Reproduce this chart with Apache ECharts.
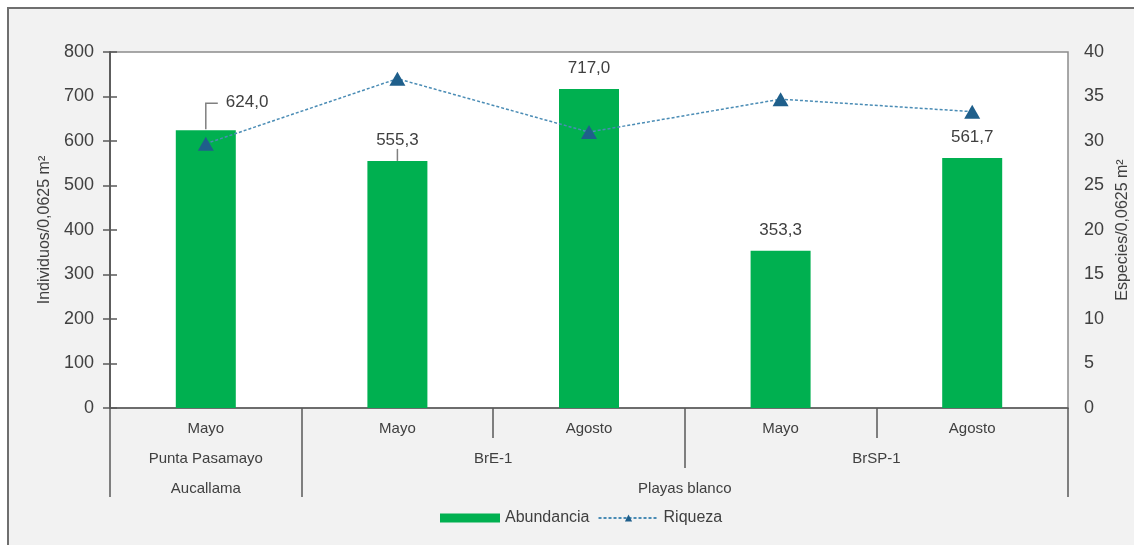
<!DOCTYPE html>
<html>
<head>
<meta charset="utf-8">
<script src="https://cdn.jsdelivr.net/npm/echarts@6/dist/echarts.min.js"></script>
<style>
  html, body { margin: 0; padding: 0; background: #ffffff; }
  #frame { position: absolute; left: 7px; top: 7px; width: 1140px; height: 560px;
           background: #f2f2f2; border-left: 2px solid #6f6f6f; border-top: 2px solid #6f6f6f; box-sizing: border-box; }
  #chart { position: absolute; left: 0; top: 0; width: 1134px; height: 545px; }
</style>
</head>
<body>
<div id="frame"></div>
<div id="chart"></div>
<script>
// ---- data ----
const months = ['Mayo', 'Mayo', 'Agosto', 'Mayo', 'Agosto'];
const stations = ['Punta Pasamayo', 'BrE-1', 'BrSP-1'];
const stationSpans = [1, 2, 2];
const places = ['Aucallama', 'Playas blanco'];
const placeSpans = [1, 4];
const abundancia = [624.0, 555.3, 717.0, 353.3, 561.7];
const riqueza = [29.7, 37.0, 31.0, 34.7, 33.3];
const leftTicks = [0, 800, 100];
const rightTicks = [0, 40, 5];

function groupInfo(spans) {
  const bounds = [0], centers = [];
  let acc = 0;
  spans.forEach(s => { centers.push(acc + s / 2); acc += s; bounds.push(acc); });
  return { bounds, centers };
}
const mo = groupInfo(months.map(() => 1));
const st = groupInfo(stationSpans);
const pl = groupInfo(placeSpans);

const FONT = 'Liberation Sans, Arial, sans-serif';
const TXT = '#404040';
const AX = '#595959';
const fmt = v => v.toFixed(1).replace('.', ',');

const chart = echarts.init(document.getElementById('chart'));
const levelAxis = (names, info, offset, tickLen) => ({
  type: 'value', gridIndex: 0, position: 'bottom', offset: offset,
  min: 0, max: months.length,
  axisLine: { show: false },
  splitLine: { show: false },
  axisTick: { show: true, length: tickLen, customValues: info.bounds, lineStyle: { color: AX, width: 1.5 } },
  axisLabel: {
    show: true, margin: 13, customValues: info.centers,
    fontFamily: FONT, fontSize: 15, color: TXT,
    formatter: v => { const i = info.centers.findIndex(c => Math.abs(c - v) < 1e-6); return i >= 0 ? names[i] : ''; }
  }
});

const guide = { color: '#808080', width: 1.5 };

chart.setOption({
  animation: false,
  textStyle: { fontFamily: FONT },
  grid: { left: 110, right: 66, top: 52, bottom: 137, outerBoundsMode: 'none', containLabel: false,
          show: true, backgroundColor: '#ffffff', borderColor: '#8c8c8c', borderWidth: 1.5 },
  legend: {
    bottom: 14, left: 435, itemGap: 8, itemWidth: 60, itemHeight: 9,
    textStyle: { fontFamily: FONT, fontSize: 16, color: TXT },
    data: [
      { name: 'Abundancia', icon: 'rect' },
      { name: 'Riqueza' }
    ]
  },
  xAxis: [
    {
      type: 'category', data: months, position: 'bottom',
      axisLine: { lineStyle: { color: AX, width: 1.5 } },
      axisTick: { show: false },
      axisLabel: { show: false }
    },
    levelAxis(months, mo, 0, 30),
    levelAxis(stations, st, 30, 30),
    levelAxis(places, pl, 60, 29)
  ],
  yAxis: [
    {
      type: 'value', min: leftTicks[0], max: leftTicks[1], interval: leftTicks[2],
      name: 'Individuos/0,0625 m²', nameLocation: 'middle', nameGap: 54,
      nameTextStyle: { fontFamily: FONT, fontSize: 16, color: TXT },
      axisLine: { show: true, lineStyle: { color: AX, width: 1.5 } },
      axisTick: { show: true, length: 7, lineStyle: { color: AX, width: 1.5 } },
      axisLabel: { margin: 16, fontFamily: FONT, fontSize: 18, color: TXT },
      splitLine: { show: false }
    },
    {
      type: 'value', min: rightTicks[0], max: rightTicks[1], interval: rightTicks[2], position: 'right',
      name: 'Especies/0,0625 m²', nameLocation: 'middle', nameGap: 46,
      nameTextStyle: { fontFamily: FONT, fontSize: 16, color: TXT },
      axisLine: { show: true, lineStyle: { color: AX, width: 1.5 } },
      axisTick: { show: true, length: 7, lineStyle: { color: AX, width: 1.5 } },
      axisLabel: { margin: 16, fontFamily: FONT, fontSize: 18, color: TXT },
      splitLine: { show: false }
    }
  ],
  series: [
    {
      name: 'Abundancia', type: 'bar', xAxisIndex: 0, yAxisIndex: 0,
      barWidth: 60,
      itemStyle: { color: '#00b050' },
      label: {
        show: true, position: 'top', distance: 12, fontFamily: FONT, fontSize: 17, color: TXT,
        formatter: p => fmt(p.value)
      },
      labelLayout: p => (p.dataIndex === 0 ? { dx: 20, dy: -8 } : {}),
      data: abundancia.map((v, i) => {
        if (i === 0) return { value: v, label: { align: 'left' } };
        if (i === 1) return { value: v, labelLine: { show: true, length2: 0, lineStyle: guide } };
        return v;
      }),
      z: 2
    },
    {
      // elbow leader line for the first (moved) label, anchored on the bar top
      name: 'leader', type: 'custom', xAxisIndex: 0, yAxisIndex: 0, silent: true, z: 2.5,
      data: [[0, abundancia[0]]],
      renderItem: (params, api) => {
        const p = api.coord([api.value(0), api.value(1)]);
        return {
          type: 'polyline',
          shape: { points: [[p[0], p[1] - 1], [p[0], p[1] - 27], [p[0] + 12, p[1] - 27]] },
          style: { stroke: guide.color, lineWidth: guide.width, fill: null }
        };
      }
    },
    {
      name: 'Riqueza', type: 'line', xAxisIndex: 0, yAxisIndex: 1,
      symbol: 'triangle', symbolSize: [16, 14],
      itemStyle: { color: '#1f5f8b' },
      lineStyle: { color: '#4a8cb5', width: 1.5, type: [3, 2] },
      data: riqueza,
      z: 3
    }
  ]
});
</script>
</body>
</html>
